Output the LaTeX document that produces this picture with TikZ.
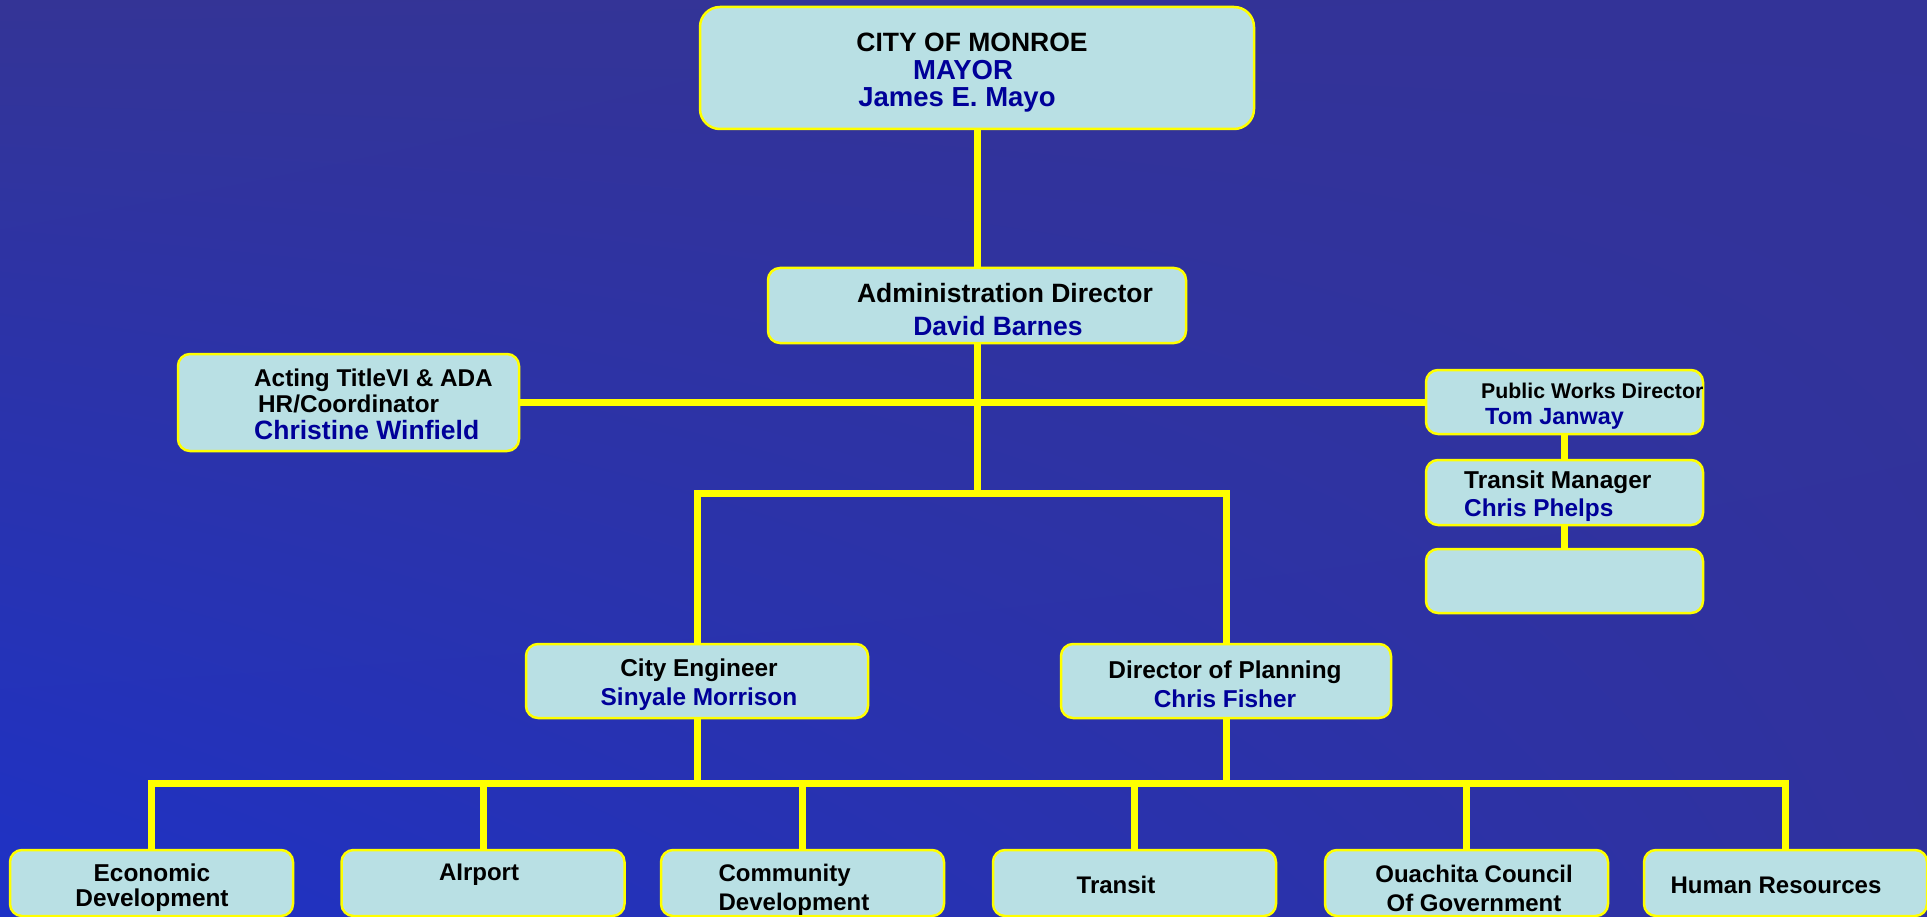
\documentclass[tikz,border=0pt]{standalone}
\usepackage{fontspec}
\setmainfont{Liberation Sans}
\usetikzlibrary{shadings}
\definecolor{boxfill}{RGB}{185,224,228}
\definecolor{namec}{RGB}{0,0,153}
\definecolor{linkc}{RGB}{255,255,0}
\definecolor{bgtl}{RGB}{52,52,150}
\definecolor{bgtr}{RGB}{51,51,152}
\definecolor{bgbl}{RGB}{30,50,198}
\definecolor{bgbr}{RGB}{48,50,158}
\newcommand{\who}[1]{\textcolor{namec}{#1}}
\newcommand{\fs}[2]{\fontsize{#1}{#2}\selectfont}

\begin{document}
\begin{tikzpicture}[
    x=1pt, y=-1pt,
    box/.style={draw=linkc, line width=2.5pt, fill=boxfill,
        rounded corners=12pt, inner sep=0pt},
    unit/.style={box, minimum width=283, minimum height=66},
    link/.style={draw=linkc, line width=7pt},
    txt/.style={inner sep=0pt, font=\bfseries\fs{24}{29}}
]
    \useasboundingbox (0,0) rectangle (1927,917);
    \shade[upper left=bgtl, upper right=bgtr, lower left=bgbl, lower right=bgbr]
        (0,0) rectangle (1927,917);

    % boxes
    \node[box, rounded corners=20pt, minimum width=554, minimum height=122] (mayor) at (977,68) {};
    \node[box, minimum width=418, minimum height=75] (admin) at (977,305.5) {};
    \node[box, minimum width=341, minimum height=97] (hr) at (348.5,402.5) {};
    \node[box, minimum width=277, minimum height=64] (pw) at (1564.5,402) {};
    \node[box, minimum width=277, minimum height=65] (tm) at (1564.5,492.5) {};
    \node[box, minimum width=277, minimum height=64] (blank) at (1564.5,581) {};
    \node[box, minimum width=342, minimum height=74] (ce) at (697,681) {};
    \node[box, minimum width=330, minimum height=74] (dp) at (1226,681) {};
    \node[unit] (econ) at (151.5,883) {};
    \node[unit] (airport) at (483,883) {};
    \node[unit] (community) at (802.5,883) {};
    \node[unit] (transit) at (1134.5,883) {};
    \node[unit] (ocog) at (1466.5,883) {};
    \node[unit] (hrdept) at (1785.5,883) {};

    % texts
    \node[txt, font=\bfseries\fs{26.5}{27.5}, align=center] at (963,73)
        {\hspace*{18pt}CITY OF MONROE\\ \who{\fs{27.5}{27.5}MAYOR}\hspace*{6pt}\\
         \who{\fs{27.5}{27.5}James E. Mayo}\hspace*{12pt}};
    \node[txt, align=center, font=\bfseries\fs{26.5}{33}] at (1003,310)
        {\hspace*{4pt}Administration Director\\ \who{David Barnes}\hspace*{10pt}};
    \node[txt, anchor=west, align=left, font=\bfseries\fs{24.3}{26.5}] at (254,404)
        {Acting TitleVI \& ADA\\ \hspace*{4pt}HR/Coordinator\\ \who{\fs{26.5}{26.5}Christine Winfield}};
    \node[txt, anchor=west, align=left, font=\bfseries\fs{21.3}{26}] at (1481,406)
        {Public Works Director\\ \hspace*{4pt}\who{\fs{23.4}{26}Tom Janway}};
    \node[txt, anchor=west, align=left, font=\bfseries\fs{24.4}{28}] at (1464,496)
        {Transit Manager\\ \who{Chris Phelps}};
    \node[txt, align=center, font=\bfseries\fs{24.4}{29}] at (699,684.5) {City Engineer\\ \who{Sinyale Morrison}};
    \node[txt, align=center, font=\bfseries\fs{24.4}{29}] at (1225,684.5) {Director of Planning\\ \who{Chris Fisher}};
    \node[txt, align=center, font=\bfseries\fs{24.4}{25}] at (152,888) {Economic\\ Development};
    \node[txt] at (479,875) {AIrport};
    \node[txt, align=left] at (794,889.5) {Community\\ Development};
    \node[txt] at (1116,885) {Transit};
    \node[txt, align=center] at (1474,888) {Ouachita Council\\ Of Government};
    \node[txt] at (1776,885) {Human Resources};

    % connectors
    \coordinate (fork) at (977,493);
    \coordinate (bus) at (977,783);
    \draw[link] (mayor) -- (admin);
    \draw[link] (hr.east) -- (hr.east -| pw.west);
    \draw[link] (admin) -- (fork);
    \draw[link] (ce) |- (fork) -| (dp);
    \draw[link] (pw) -- (tm);
    \draw[link] (tm) -- (blank);
    \draw[link] (ce) -- (ce |- bus);
    \draw[link] (dp) -- (dp |- bus);
    \draw[link] (econ) |- (bus) -| (hrdept);
    \foreach \u in {airport, community, transit, ocog}
        \draw[link] (\u) -- (\u |- bus);
\end{tikzpicture}
\end{document}
